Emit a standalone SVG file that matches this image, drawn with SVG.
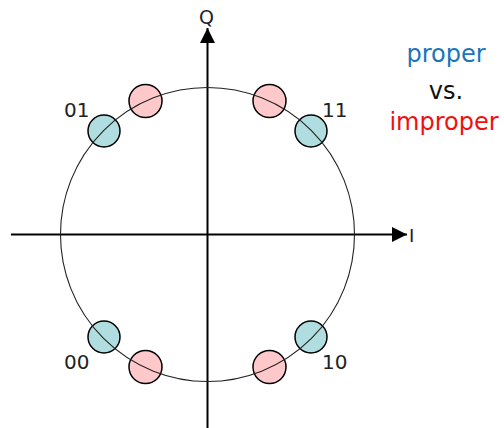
<svg xmlns="http://www.w3.org/2000/svg" width="504" height="428" viewBox="0 0 504 428">
<defs>
<style>
text{font-family:"DejaVu Sans",sans-serif;}
.lbl{font-size:20px;fill:#222;}
.ax{stroke:#000;stroke-width:2;fill:none;}
.blue{fill:#b0dde0;stroke:#000;stroke-width:1.5;}
.pink{fill:#ffc9cb;stroke:#000;stroke-width:1.5;}
.ring{fill:none;stroke:#222;stroke-width:1.1;}
.big{font-size:24px;text-anchor:middle;}
</style>
<marker id="ah" viewBox="0 0 10 10" refX="10" refY="5" markerWidth="7.5" markerHeight="7.5" markerUnits="strokeWidth" orient="auto"><path d="M0,0 L10,5 L0,10 Z" fill="#000"/></marker>
</defs>
<g id="axes">
<line class="ax" x1="11" y1="234.5" x2="407" y2="234.5" marker-end="url(#ah)"/>
<line class="ax" x1="207.5" y1="428" x2="207.5" y2="28" marker-end="url(#ah)"/>
</g>
<g id="dots">
<g id="p01"><circle class="pink" cx="145.5" cy="101" r="16.5"/></g>
<g id="p11"><circle class="pink" cx="269.5" cy="101" r="16.5"/></g>
<g id="p00"><circle class="pink" cx="145.5" cy="367" r="16.5"/></g>
<g id="p10"><circle class="pink" cx="269.5" cy="367" r="16.5"/></g>
<g id="b01"><circle class="blue" cx="104" cy="131" r="16"/></g>
<g id="b11"><circle class="blue" cx="311" cy="131" r="16"/></g>
<g id="b00"><circle class="blue" cx="104" cy="337" r="16"/></g>
<g id="b10"><circle class="blue" cx="311" cy="337" r="16"/></g>
</g>
<g id="ring"><circle class="ring" cx="207.5" cy="234.5" r="147"/></g>
<g id="labels">
<text class="lbl" x="64" y="117">01</text>
<text class="lbl" x="322" y="117">11</text>
<text class="lbl" x="64" y="368.5">00</text>
<text class="lbl" x="322" y="368.5">10</text>
<text x="206.5" y="24" font-size="19" fill="#222" text-anchor="middle">Q</text>
<text x="409" y="241.5" font-size="18" fill="#222">I</text>
</g>
<g id="legend">
<text class="big" x="446" y="62" fill="#1a75bc">proper</text>
<text class="big" x="446" y="99" fill="#111">vs.</text>
<text class="big" x="444" y="130" fill="#f01010">improper</text>
</g>
</svg>
